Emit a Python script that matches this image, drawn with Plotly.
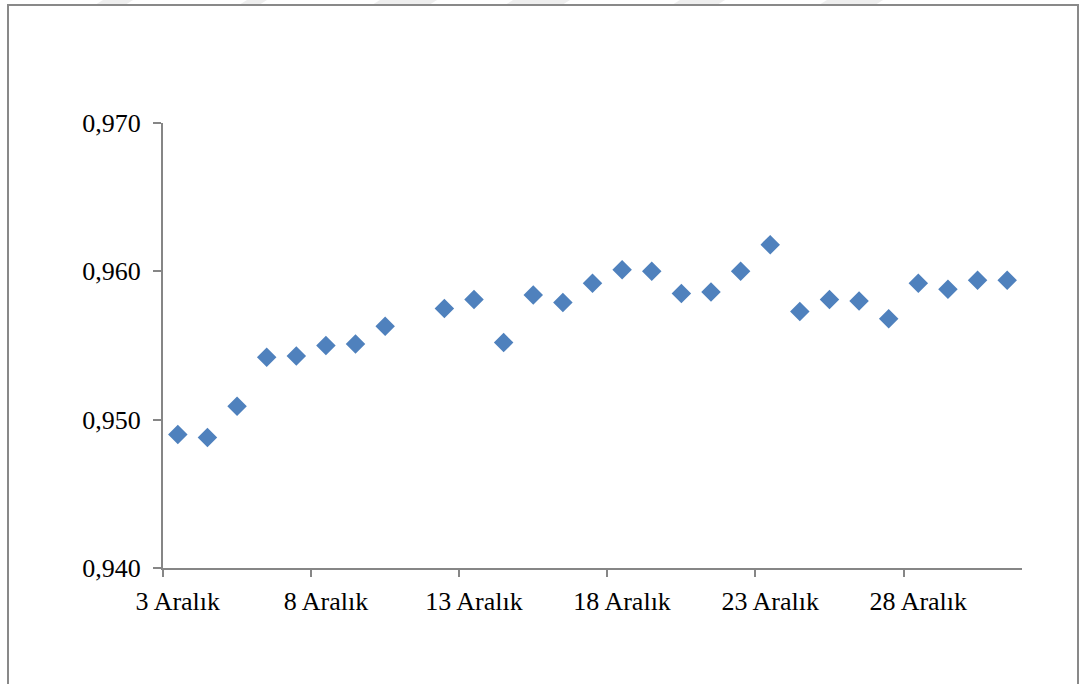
import plotly.graph_objects as go

# Daily values for December (day 11 has no observation)
days = [3, 4, 5, 6, 7, 8, 9, 10, 12, 13, 14, 15, 16, 17, 18, 19, 20,
        21, 22, 23, 24, 25, 26, 27, 28, 29, 30, 31]
values = [0.9490, 0.9488, 0.9509, 0.9542, 0.9543, 0.9550, 0.9551, 0.9563,
          0.9575, 0.9581, 0.9552, 0.9584, 0.9579, 0.9592, 0.9601, 0.9600,
          0.9585, 0.9586, 0.9600, 0.9618, 0.9573, 0.9581, 0.9580, 0.9568,
          0.9592, 0.9588, 0.9594, 0.9594]

label_days = [3, 8, 13, 18, 23, 28]
label_text = ["3 Aralık", "8 Aralık", "13 Aralık", "18 Aralık", "23 Aralık", "28 Aralık"]
y_ticks = [0.940, 0.950, 0.960, 0.970]

W, H = 1080, 684
L, R, T, B = 163, 1080 - 1022, 123, 684 - 568
pw, ph = W - L - R, H - T - B

def px(x):
    return (x - L) / pw

def py(y):
    return (H - B - y) / ph

AXIS = "#868686"
FONT = "Liberation Serif, Times New Roman, serif"

fig = go.Figure()
fig.add_trace(go.Scatter(
    x=days, y=values, mode="markers",
    marker=dict(symbol="diamond", size=15, color="#4F81BD",
                line=dict(width=0)),
    hoverinfo="x+y", showlegend=False,
))

shapes = []
# faint diagonal bands along the very top edge
for x0, x1 in [(103, 133), (247, 267), (380, 437), (513, 570), (680, 725), (827, 883)]:
    shapes.append(dict(
        type="path", xref="paper", yref="paper", layer="below",
        path=f"M {px(x0)} {py(0)} L {px(x1)} {py(0)} L {px(x1 - 8)} {py(5)} L {px(x0 - 8)} {py(5)} Z",
        fillcolor="#EEEEEE", line=dict(width=0),
    ))
# outer chart frame
shapes.append(dict(
    type="rect", xref="paper", yref="paper",
    x0=px(8), x1=px(1078), y0=py(700), y1=py(5),
    line=dict(color="#898989", width=2), fillcolor="rgba(0,0,0,0)",
))

fig.update_layout(
    width=W, height=H,
    margin=dict(l=L, r=R, t=T, b=B, pad=0),
    paper_bgcolor="white", plot_bgcolor="white",
    separators=",.",
    font=dict(family=FONT, size=26, color="black"),
    shapes=shapes,
    xaxis=dict(
        range=[2.5, 31.5], showgrid=False, zeroline=False,
        showline=True, linecolor=AXIS, linewidth=2,
        tickmode="array", tickvals=label_days, ticktext=label_text,
        ticks="", ticklabelstandoff=9,
        tickfont=dict(family=FONT, size=26, color="black"),
        minor=dict(tickmode="array",
                   tickvals=[d - 0.5 for d in label_days],
                   ticks="outside", ticklen=7, tickwidth=2, tickcolor=AXIS,
                   showgrid=False),
        fixedrange=True,
    ),
    yaxis=dict(
        range=[0.940, 0.970], showgrid=False, zeroline=False,
        showline=True, linecolor=AXIS, linewidth=2,
        tickmode="array", tickvals=y_ticks, tickformat=".3f",
        ticks="outside", ticklen=8, tickwidth=2, tickcolor=AXIS,
        ticklabelstandoff=7,
        tickfont=dict(family=FONT, size=26, color="black"),
        fixedrange=True,
    ),
)

fig.write_html("out.html")
